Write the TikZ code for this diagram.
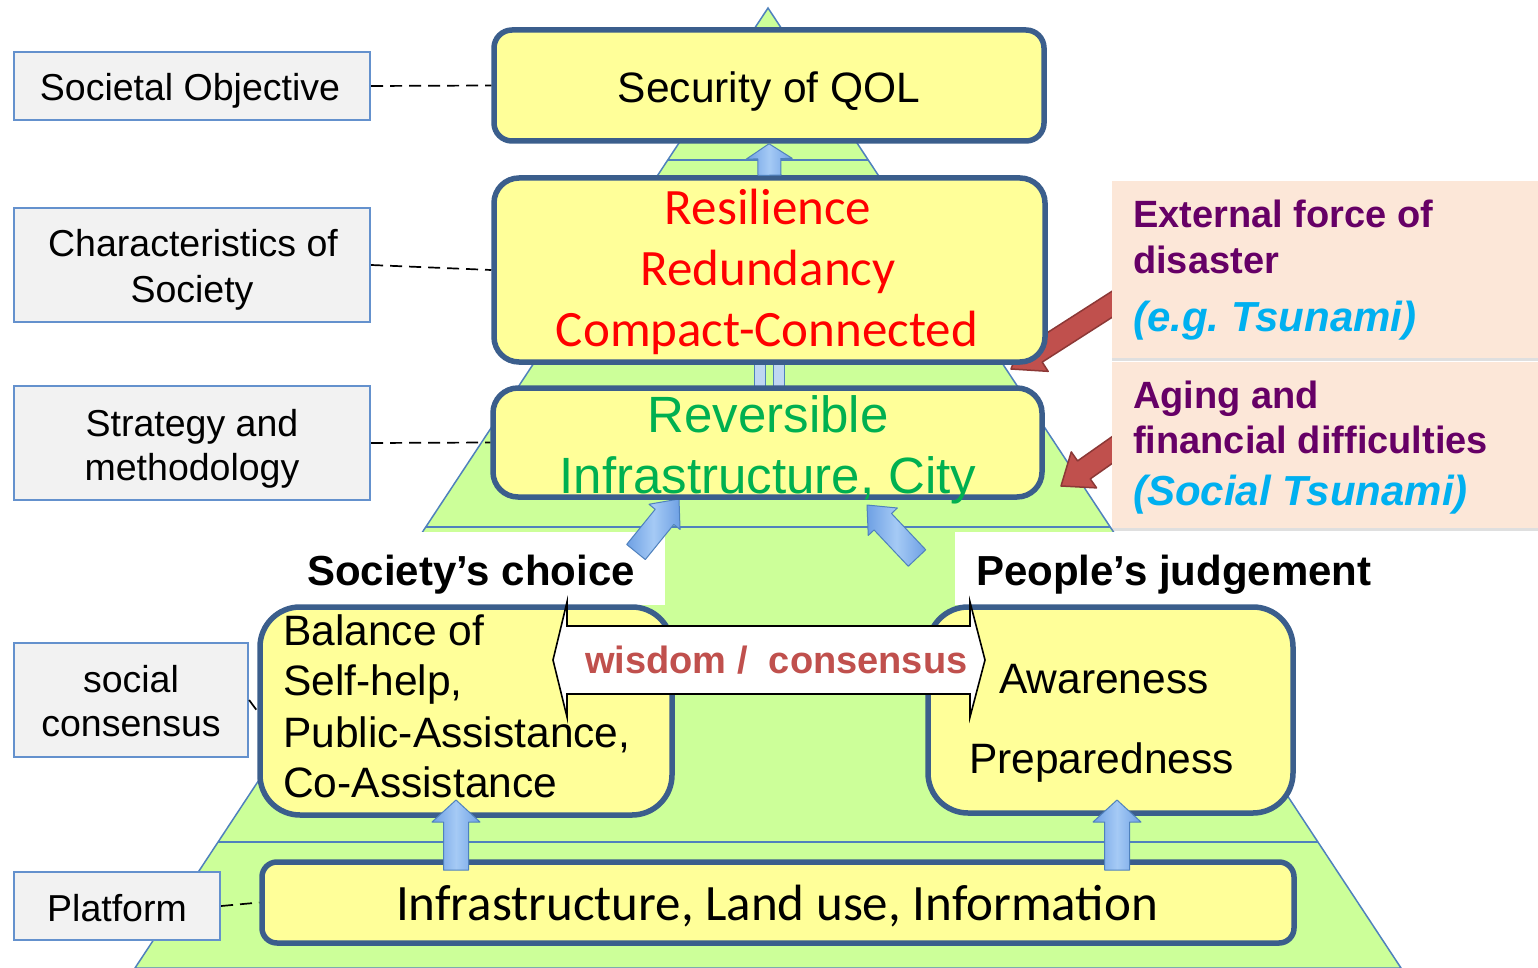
\documentclass[tikz,border=0pt]{standalone}
\usepackage{fontspec}
\setmainfont{Liberation Sans}
\newfontfamily\carlito{Carlito}
\usetikzlibrary{calc,shadows}

\definecolor{pyrgreen}{RGB}{204,255,153}
\definecolor{pyrline}{RGB}{79,129,189}
\definecolor{boxyellow}{RGB}{255,255,153}
\definecolor{boxedge}{RGB}{59,94,140}
\definecolor{lblfill}{RGB}{242,242,242}
\definecolor{lbledge}{RGB}{100,145,205}
\definecolor{peach}{RGB}{252,231,216}
\definecolor{purpletxt}{RGB}{102,0,102}
\definecolor{cyantxt}{RGB}{0,176,240}
\definecolor{redtxt}{RGB}{255,0,0}
\definecolor{greentxt}{RGB}{0,176,80}
\definecolor{arrowred}{RGB}{192,80,77}
\definecolor{arrowrededge}{RGB}{140,56,54}
\definecolor{arrowblue}{RGB}{110,160,228}
\definecolor{arrowbluelight}{RGB}{165,202,245}
\definecolor{arrowblueedge}{RGB}{79,129,189}
\definecolor{barblue}{RGB}{190,215,242}
\definecolor{wisdomred}{RGB}{192,80,77}

\newcommand\fsz[1]{\fontsize{#1}{#1}\selectfont}

% block arrow: [style]{tail}{tip}{shaft half width}{head half width}{head length}
\newcommand\blockarrow[6][]{%
  \coordinate (baTail) at (#2);
  \coordinate (baTip) at (#3);
  \coordinate (baNeck) at ($(baTip)!#6!(baTail)$);
  \draw[#1] ($(baTail)!#4!90:(baTip)$) -- ($(baNeck)!#4!90:(baTip)$)
    -- ($(baNeck)!#5!90:(baTip)$) -- (baTip) -- ($(baNeck)!#5!-90:(baTip)$)
    -- ($(baNeck)!#4!-90:(baTip)$) -- ($(baTail)!#4!-90:(baTip)$) -- cycle;
}

\tikzset{
  ybox/.style={draw=boxedge, fill=boxyellow, line width=5.5pt, inner sep=0pt},
  lbox/.style={draw=lbledge, fill=lblfill, line width=2.2pt, inner sep=0pt},
  pbox/.style={fill=peach, inner sep=0pt,
    drop shadow={shadow xshift=0pt, shadow yshift=-3pt, opacity=0.25}},
  txt/.style={anchor=base, inner sep=0pt},
  ltxt/.style={anchor=base west, inner sep=0pt},
  dashlink/.style={draw=black, line width=1.7pt, dash pattern=on 12pt off 7pt},
  bluearrow/.style={left color=arrowblue, right color=arrowblue,
    middle color=arrowbluelight, draw=arrowblueedge, line width=1pt, line join=round},
  redarrow/.style={fill=arrowred, draw=arrowrededge, line width=1.5pt, line join=round},
  bluebar/.style={fill=barblue, draw=arrowblueedge, line width=1pt},
  layerline/.style={draw=pyrline, line width=1.5pt},
  labelback/.style={fill=white, inner sep=0pt}
}

\begin{document}
\begin{tikzpicture}[x=1pt, y=-1pt]
\useasboundingbox (0,0) rectangle (1538,968);
\fill[white] (0,0) rectangle (1538,968);

% pyramid with its layer lines
\coordinate (apex) at (768,8);
\coordinate (bl) at (135,968);
\coordinate (br) at (1401,968);
\filldraw[fill=pyrgreen, layerline] (apex) -- (br) -- (bl) -- cycle;
\draw[layerline] ($(apex)!0.1583!(bl)$) -- ($(apex)!0.1583!(br)$);
\draw[layerline] ($(apex)!0.5406!(bl)$) -- ($(apex)!0.5406!(br)$);
\draw[layerline] ($(apex)!0.86875!(bl)$) -- ($(apex)!0.86875!(br)$);

% white backgrounds of the two headings
\node[labelback, minimum width=385pt, minimum height=73pt] (scBg) at (472.5,568.5) {};
\node[labelback, minimum width=445pt, minimum height=73pt] (pjBg) at (1177.5,568.5) {};

% red arrows of the external pressures
\blockarrow[redarrow]{1125,296}{1011,369}{11pt}{22pt}{30pt}
\blockarrow[redarrow]{1125,441}{1061,486}{11pt}{22pt}{28pt}

% arrows behind the boxes
\coordinate (scTail) at (636,552);
\coordinate (scTip) at (679,499);
\coordinate (pjTail) at (917,558);
\coordinate (pjTip) at (867,505);
\blockarrow[bluearrow]{scTail}{scTip}{12pt}{20pt}{23pt}
\blockarrow[bluearrow]{pjTail}{pjTip}{12pt}{20pt}{23pt}
\draw[bluebar] (754,355) rectangle (765,395);
\draw[bluebar] (773,355) rectangle (784,395);

% main boxes
\node[ybox, rounded corners=18pt, minimum width=550pt, minimum height=111pt] (qol) at (769,85.5) {};
\node[ybox, rounded corners=25pt, minimum width=551pt, minimum height=184pt] (res) at (769.5,270) {};
\node[ybox, rounded corners=25pt, minimum width=549pt, minimum height=109pt] (rev) at (767.5,442.5) {};
\node[ybox, rounded corners=40pt, minimum width=412pt, minimum height=208pt] (bal) at (466,711) {};
\node[ybox, rounded corners=40pt, minimum width=365pt, minimum height=206pt] (awa) at (1110.5,710) {};
\node[ybox, rounded corners=15pt, minimum width=1032pt, minimum height=81pt] (infra) at (778,902.5) {};

\blockarrow[bluearrow]{res.north}{qol.south}{11.5pt}{23pt}{15pt}

% arrows from the platform up
\coordinate (pfTailL) at (456,870);
\coordinate (pfTipL) at (456,800);
\coordinate (pfTailR) at (1117,870);
\coordinate (pfTipR) at (1117,800);
\blockarrow[bluearrow]{pfTailL}{pfTipL}{12.5pt}{24pt}{22pt}
\blockarrow[bluearrow]{pfTailR}{pfTipR}{12.5pt}{24pt}{22pt}

% two-way arrow between choice and judgement
\draw[fill=white, draw=black, line width=1.6pt, line join=miter]
  (553,660) -- (567,602) -- (567,626) -- (970,626) -- (970,602) -- (985,660)
  -- (970,717) -- (970,694) -- (567,694) -- (567,717) -- cycle;
\node[ltxt, font=\bfseries\fsz{38}, text=wisdomred] (wis) at (585,673) {wisdom /\ \ consensus};

% level labels on the left
\node[lbox, minimum width=356pt, minimum height=68pt] (so) at (192,86) {};
\node[lbox, minimum width=356pt, minimum height=114pt] (cs) at (192,265) {};
\node[lbox, minimum width=356pt, minimum height=114pt] (sm) at (192,443) {};
\node[lbox, minimum width=234pt, minimum height=114pt] (sc) at (131,700) {};
\node[lbox, minimum width=206pt, minimum height=68pt] (pf) at (117,906) {};

\draw[dashlink] (so.east) -- (qol.west);
\draw[dashlink] (cs.east) -- (res.west);
\draw[dashlink] (sm.east) -- (rev.west);
\draw[dashlink] (sc.east) -- (bal.west);
\draw[dashlink] (pf.east) -- (infra.west);

\node[txt, font=\fsz{37.5}] (soT) at (190,101) {Societal Objective};
\node[txt, font=\fsz{37.5}] (csT1) at (193,257) {Characteristics of};
\node[txt, font=\fsz{37.5}] (csT2) at (192,302) {Society};
\node[txt, font=\fsz{37.5}] (smT1) at (192,436) {Strategy and};
\node[txt, font=\fsz{37.5}] (smT2) at (192,480) {methodology};
\node[txt, font=\fsz{37.5}] (scT1) at (131,692) {social};
\node[txt, font=\fsz{37.5}] (scT2) at (131,736) {consensus};
\node[txt, font=\fsz{37.5}] (pfT) at (117,921) {Platform};

% pressures on the right
\node[pbox, minimum width=426pt, minimum height=177pt] (ext) at (1325,269.5) {};
\node[pbox, minimum width=426pt, minimum height=166pt] (age) at (1325,445) {};
\node[ltxt, font=\bfseries\fsz{38}, text=purpletxt] (extT1) at (1133,228) {External force of};
\node[ltxt, font=\bfseries\fsz{38}, text=purpletxt] (extT2) at (1133,273) {disaster};
\node[ltxt, font=\bfseries\itshape\fsz{42}, text=cyantxt] (extT3) at (1133,331) {(e.g.\ Tsunami)};
\node[ltxt, font=\bfseries\fsz{38}, text=purpletxt] (ageT1) at (1133,408) {Aging and};
\node[ltxt, font=\bfseries\fsz{38}, text=purpletxt] (ageT2) at (1133,453) {financial difficulties};
\node[ltxt, font=\bfseries\itshape\fsz{42}, text=cyantxt] (ageT3) at (1133,505) {(Social Tsunami)};

% texts in the pyramid boxes
\node[txt, font=\fsz{42.5}] (qolT) at (769,103) {Security of QOL};
\node[txt, font=\carlito\fsz{51}, text=redtxt] (resT1) at (768,225) {Resilience};
\node[txt, font=\carlito\fsz{51}, text=redtxt] (resT2) at (768,285) {Redundancy};
\node[txt, font=\carlito\fsz{51}, text=redtxt] (resT3) at (767,346) {Compact-Connected};
\node[txt, font=\fsz{51}, text=greentxt] (revT1) at (768,432) {Reversible};
\node[txt, font=\fsz{51}, text=greentxt] (revT2) at (768,493) {Infrastructure, City};

\node[ltxt, font=\bfseries\fsz{42}] (scHead) at (307,585) {Society’s choice};
\node[ltxt, font=\bfseries\fsz{42}] (pjHead) at (976,585) {People’s judgement};

\node[ltxt, font=\fsz{42.5}] (balT1) at (283,645) {Balance of};
\node[ltxt, font=\fsz{42.5}] (balT2) at (283,695) {Self-help,};
\node[ltxt, font=\fsz{42.5}] (balT3) at (283,747) {Public-Assistance,};
\node[ltxt, font=\fsz{42.5}] (balT4) at (283,797) {Co-Assistance};
\node[ltxt, font=\fsz{42.5}] (awaT1) at (999,693) {Awareness};
\node[ltxt, font=\fsz{42.5}] (awaT2) at (969,773) {Preparedness};

\node[txt, font=\carlito\fsz{51}] (infraT) at (777,920) {Infrastructure, Land use, Information};
\end{tikzpicture}
\end{document}
